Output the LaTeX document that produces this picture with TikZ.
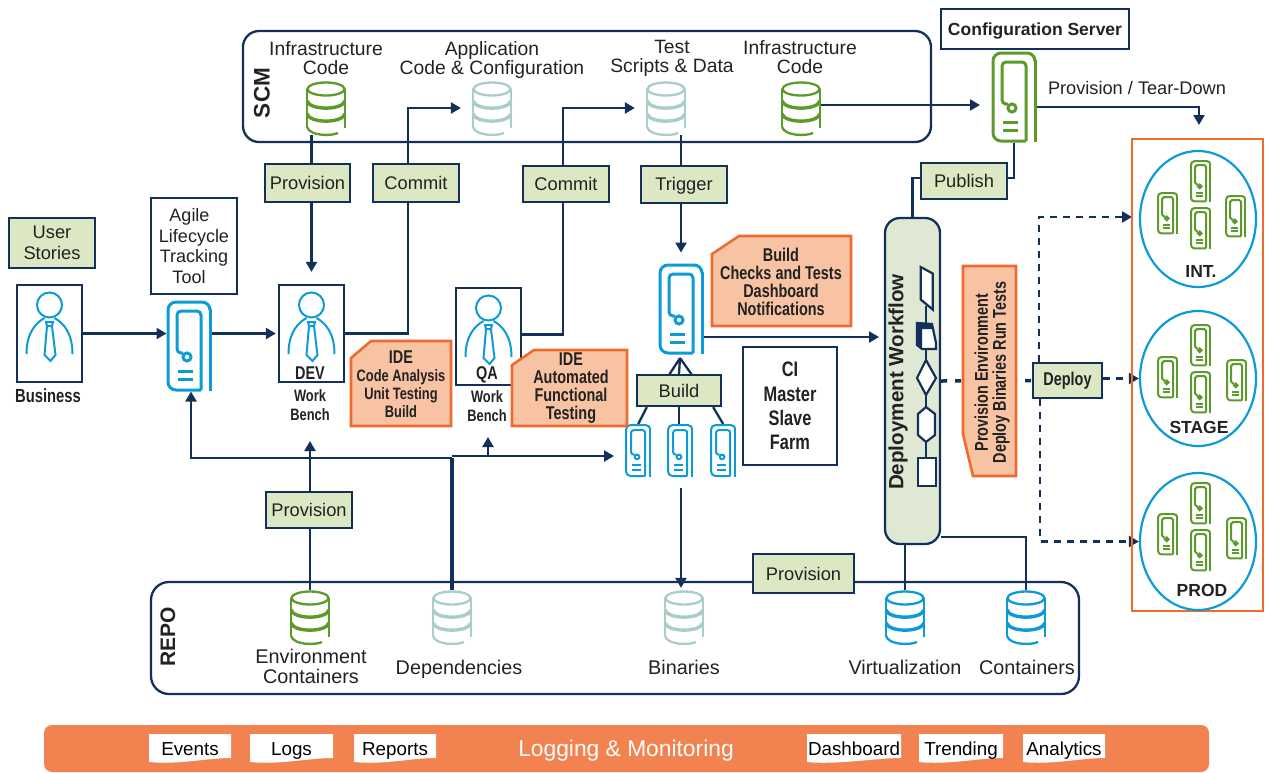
\documentclass[tikz,border=0pt]{standalone}
\usepackage{fontspec}
\setmainfont{Liberation Sans}
\newfontfamily\narrowfont[FakeStretch=0.78]{Liberation Sans}
\usetikzlibrary{arrows.meta,backgrounds,shapes.geometric}
\definecolor{navy}{HTML}{12305A}
\definecolor{ink}{HTML}{222222}
\definecolor{boxgreen}{HTML}{DCE8C4}
\definecolor{wfgreen}{HTML}{DFE8D3}
\definecolor{notefill}{HTML}{F8C3A3}
\definecolor{noteline}{HTML}{EE6A2F}
\definecolor{barfill}{HTML}{F2824F}
\definecolor{iconblue}{HTML}{0C9BD7}
\definecolor{icongreen}{HTML}{5C9A2B}
\definecolor{iconteal}{HTML}{A9CDC9}
\tikzset{
  conn/.style={draw=navy,line width=2.3pt},
  arr/.style={conn,-{Triangle[length=10pt,width=11pt]}},
  dasharr/.style={arr,line width=2.4pt,dash pattern=on 7pt off 6pt},
  lbl/.style={font=\fontsize{19.3}{19}\selectfont,text=ink,align=center,inner sep=0pt},
  replbl/.style={font=\fontsize{19.8}{20}\selectfont,text=ink,align=center,inner sep=0pt},
  boldlbl/.style={font=\bfseries\fontsize{17.5}{18}\selectfont,text=ink,align=center,inner sep=0pt},
  nlbl/.style={font=\narrowfont\bfseries\fontsize{18.5}{18}\selectfont,text=ink,align=center,inner sep=0pt},
  greenbox/.style={draw=navy,fill=boxgreen,line width=2.3pt,inner sep=0pt,text=ink,align=center,font=\fontsize{18.3}{20.5}\selectfont},
  whitebox/.style={draw=navy,fill=white,line width=2.3pt,inner sep=0pt,text=ink,align=center},
  notebox/.style={draw=noteline,fill=notefill,line width=2.6pt},
  wfshape/.style={draw=navy,fill=white,line width=2.2pt},
  docbar/.style={font=\fontsize{18.8}{19}\selectfont,text=black,inner sep=0pt,anchor=base}
}
\newcommand{\dbicon}[4]{%
\begin{scope}[shift={(#1,#2)},draw=#3,line width=2.3pt]
\node[minimum width=38,minimum height=52,inner sep=0pt] (#4) at (19,26) {};
\draw (19,7) ellipse [x radius=18.5,y radius=6.5];
\draw (0,7)--(0,45) (38,7)--(38,46);
\draw[line width=3.4pt] (0,19) .. controls (3,28.5) and (35,28.5) .. (38,19);
\draw[line width=3.4pt] (0,32) .. controls (3,41.5) and (35,41.5) .. (38,32);
\draw (0,45) .. controls (3,54.5) and (25,54) .. (31,51);
\end{scope}}
\newcommand{\srvicon}[6]{%
\begin{scope}[shift={(#1,#2)},scale=#3,draw=#5,line width=#4pt]
\node[minimum width={42*#3},minimum height={88*#3},inner sep=0pt] (#6) at (21,44) {};
\draw[rounded corners={#3*8pt}] (33,88)--(0,88)--(0,0)--(42,0)--(42,8);
\draw (42,7)--(42,89);
\draw[rounded corners={#3*4pt}] (33,88)--(33,9)--(9,9)--(9,51)--(15,51);
\draw (19,55) circle [radius=4];
\draw (10,69)--(25,69) (10,77)--(25,77);
\end{scope}}
\newcommand{\person}[3]{%
\node[whitebox,minimum width=65,minimum height=97] (#3) at (#1,#2+48.5) {};
\begin{scope}[shift={(#1,#2)},draw=iconblue,line width=2pt]
\draw (0,20) circle [radius=12.5];
\draw (-23,69) .. controls (-23,48) and (-14,38) .. (-5,33);
\draw (23,69) .. controls (23,48) and (14,38) .. (5,33);
\draw (-3.5,37)--(3.5,37)--(2.5,41)--(6,70)--(1,76)--(-5,70)--(-2.5,41)--cycle (-2.5,41)--(2.5,41);
\end{scope}}
\newcommand{\docnote}[4]{%
\fill[white] (#2,734)--(#3,734)--(#3,758) .. controls ({#3-25},758) and ({#2+30},765) .. (#2,762)--cycle;
\node[docbar] (#1) at ({(#2+#3)/2},755) {#4};}
\begin{document}
\begin{tikzpicture}[x=1pt,y=-1pt]
\useasboundingbox (0,0) rectangle (1266,772);
\draw[conn,rounded corners=16pt] (243,31) rectangle (931,142);
\node[font=\bfseries\fontsize{22.5}{22}\selectfont,text=ink,rotate=90,inner sep=0pt] (scmlbl) at (262,93) {SCM};
\draw[conn,rounded corners=18pt] (151,582) rectangle (1079,694);
\node[font=\bfseries\fontsize{21}{21}\selectfont,text=ink,rotate=90,inner sep=0pt] (repolbl) at (168,637) {REPO};
\draw[draw=noteline,line width=2.6pt] (1132,139) rectangle (1263,611);

\dbicon{307}{82}{icongreen}{dbinfa}
\dbicon{473}{82}{iconteal}{dbapp}
\dbicon{647}{82}{iconteal}{dbtest}
\dbicon{782}{82}{icongreen}{dbinfb}
\dbicon{291}{591}{icongreen}{dbenv}
\dbicon{433}{591}{iconteal}{dbdep}
\dbicon{665}{591}{iconteal}{dbbin}
\dbicon{886}{591}{iconblue}{dbvirt}
\dbicon{1007}{591}{iconblue}{dbcont}

\node[lbl] (infalbl) at (326,58) {Infrastructure\\Code};
\node[lbl] (applbl) at (492,60) {Application\\Code \& Configuration};
\node[lbl] (testlbl) at (672,58) {Test\\Scripts \& Data};
\node[lbl] (infblbl) at (800,57) {Infrastructure\\Code};
\node[replbl] (envlbl) at (311,666) {Environment\\Containers};
\node[replbl] (deplbl) at (459,669) {Dependencies};
\node[replbl] (binlbl) at (684,667) {Binaries};
\node[replbl] (virtlbl) at (905,667) {Virtualization};
\node[replbl] (contlbl) at (1027,667) {Containers};
\node[lbl,font=\fontsize{18.2}{19}\selectfont] (tearlbl) at (1137,88) {Provision / Tear-Down};

\node[greenbox,minimum width=85,minimum height=38] (provtop) at (307.5,183) {Provision};
\node[greenbox,minimum width=86,minimum height=38] (commita) at (416,183) {Commit};
\node[greenbox,minimum width=86,minimum height=36] (commitb) at (566,184) {Commit};
\node[greenbox,minimum width=86,minimum height=37,text height=17pt,text depth=4.6pt] (trigger) at (684,184.5) {Trigger};
\node[greenbox,minimum width=86,minimum height=36] (publish) at (964,181) {Publish};
\node[greenbox,minimum width=86,minimum height=50] (stories) at (52,243) {User\\Stories};
\node[greenbox,minimum width=84,minimum height=31] (buildbox) at (679,390.5) {Build};
\node[greenbox,minimum width=86,minimum height=36] (provmid) at (309,510) {Provision};
\node[greenbox,minimum width=101,minimum height=39] (provbot) at (803.5,573.5) {Provision};
\node[greenbox,minimum width=69,minimum height=35,font=\narrowfont\bfseries\fontsize{18.5}{18}\selectfont] (deploy) at (1067.5,380.5) {Deploy};

\node[whitebox,minimum width=86,minimum height=96,font=\fontsize{18}{20.8}\selectfont] (agilebox) at (194,246) {Agile\hspace*{9pt}\\Lifecycle\\Tracking\hspace*{2pt}\\Tool\hspace*{10pt}};
\node[whitebox,minimum width=188,minimum height=40,font=\bfseries\fontsize{17.5}{18}\selectfont,text height=17pt,text depth=4.6pt] (cfgbox) at (1035,29) {Configuration Server};
\node[whitebox,minimum width=94,minimum height=118,font=\narrowfont\bfseries\fontsize{21}{24.3}\selectfont] (cibox) at (790,406) {CI\\Master\\Slave\\Farm};

\person{49.5}{285}{business}
\person{311.5}{285}{dev}
\person{488.5}{288}{qa}
\node[nlbl,font=\narrowfont\bfseries\fontsize{19}{19}\selectfont] (busilbl) at (48,396) {Business};
\node[nlbl] (devlbl) at (310,373) {DEV};
\node[nlbl,font=\narrowfont\bfseries\fontsize{16.5}{19}\selectfont] (devwb) at (310,405.5) {Work\\Bench};
\node[nlbl] (qalbl) at (487,375) {QA};
\node[nlbl,font=\narrowfont\bfseries\fontsize{16.5}{19}\selectfont] (qawb) at (487,406.5) {Work\\Bench};

\srvicon{168}{302}{1}{3}{iconblue}{agile}
\srvicon{660}{265}{1}{3}{iconblue}{master}
\srvicon{993}{53}{1}{3}{icongreen}{cfgsrv}
\srvicon{626}{425}{0.58}{2}{iconblue}{slavea}
\srvicon{668}{425}{0.58}{2}{iconblue}{slaveb}
\srvicon{711}{425}{0.58}{2}{iconblue}{slavec}

\draw[notebox] (351,358)--(371,341)--(451,341)--(451,426)--(351,426)--cycle;
\node[nlbl,font=\narrowfont\bfseries\fontsize{16.5}{18}\selectfont] (idealbl) at (401,384) {{\fontsize{18.5}{18}\selectfont IDE}\\Code Analysis\\Unit Testing\\Build};
\draw[notebox] (512,365)--(534,350)--(627,350)--(627,426)--(512,426)--cycle;
\node[nlbl] (ideblbl) at (571,388) {IDE\\Automated\\Functional\\Testing};
\draw[notebox] (712,254)--(739,236)--(851,236)--(851,326)--(712,326)--cycle;
\node[nlbl] (buildlbl) at (781,282) {Build\\Checks and Tests\\Dashboard\\Notifications};
\draw[notebox] (963,266)--(1016,266)--(1016,476)--(973,476)--(963,434)--cycle;
\node[nlbl,rotate=90] (provlbl) at (992,372.5) {Provision Environment\\Deploy Binaries Run Tests};

\node[draw=navy,fill=wfgreen,line width=2.3pt,rounded corners=15pt,minimum width=55,minimum height=326,inner sep=0pt] (wf) at (912.5,381) {};
\node[font=\bfseries\fontsize{20.6}{21}\selectfont,text=ink,rotate=90,inner sep=0pt] (wflbl) at (898,382) {Deployment Workflow};
\draw[conn] (926,306)--(926,323) (926,349)--(926,360) (926,395)--(926,407) (926,442)--(926,458);
\draw[wfshape] (920.7,267)--(932.7,273.5)--(932.7,309.5)--(920.7,299.5)--cycle;
\draw[wfshape] (917,323)--(932,324)--(936,343)--(936,349)--(922,349)--(917,345)--cycle;
\fill[navy] (917,323)--(932,324)--(933,329)--(922,329)--(922,349)--(917,345)--cycle;
\draw[wfshape] (926,360)--(936,378)--(926,395)--(917,378)--cycle;
\draw[wfshape] (926,407)--(935,414)--(935,435)--(926,442)--(918,435)--(918,414)--cycle;
\draw[wfshape] (918,458) rectangle (936,486);

\node[draw=iconblue,ellipse,line width=2.2pt,minimum width=116,minimum height=136,inner sep=0pt] (intell) at (1198,219) {};
\node[draw=iconblue,ellipse,line width=2.2pt,minimum width=116,minimum height=135,inner sep=0pt] (stageell) at (1198,378.5) {};
\node[draw=iconblue,ellipse,line width=2.2pt,minimum width=116,minimum height=137,inner sep=0pt] (prodell) at (1198,541.5) {};
\foreach \ix/\iy [count=\ni] in {1158/193,1191/161,1191/208,1226/196,1158/357,1191/325,1191/372,1227/360,1158/514,1191/483,1191/530,1227/518}
  \srvicon{\ix}{\iy}{0.46}{2}{icongreen}{envsrv\ni};
\node[boldlbl] (intlbl) at (1201,271) {INT.};
\node[boldlbl] (stagelbl) at (1199,427) {STAGE};
\node[boldlbl] (prodlbl) at (1202,590) {PROD};

\draw[fill=barfill,draw=none,rounded corners=8pt] (44,725) rectangle (1209,772);
\docnote{events}{149}{231}{Events}
\docnote{logs}{250}{333}{Logs}
\docnote{reports}{354}{436}{Reports}
\docnote{dashb}{807}{901}{Dashboard}
\docnote{trend}{919}{1003}{Trending}
\docnote{analy}{1023}{1105}{Analytics}
\node[font=\fontsize{22.8}{23}\selectfont,text=white,inner sep=0pt,anchor=base] (loglbl) at (626,756.5) {Logging \& Monitoring};

\coordinate (cfgin) at (980,105);
\coordinate (envin) at (1199,125);
\coordinate (wfin) at (879,337);
\coordinate (buildtop) at (680,358);
\coordinate (binout) at (681,488);
\coordinate (devin) at (310,441);
\coordinate (depjoin) at (452,458);
\coordinate (slavein) at (614,456);
\coordinate (qain) at (488,437);
\coordinate (intin) at (1132,217);
\begin{scope}[on background layer]
\draw[arr] (business.east) -- (business.east -| agile.west);
\draw[arr,shorten >=2pt] (business.east -| agile.east) -- (dev.west);
\draw[arr,shorten >=12pt] (dbinfa.south -| dev.north) -- (dev.north);
\draw[arr,shorten >=11pt] (dev.east) -- ++(63,0) |- (dbapp.west);
\draw[arr,shorten >=11pt] ([yshift=2pt]qa.east) -- ++(41,0) |- (dbtest.west);
\draw[arr,shorten >=11pt] (dbtest.south -| master.north) -- (master.north);
\draw[arr] (dbinfb.east |- cfgin) -- (cfgin);
\draw[arr] ([yshift=-10pt]cfgsrv.east) -| (envin);
\draw[conn] (cfgsrv.south) |- ([yshift=3pt]publish.east);
\draw[conn] ([yshift=3pt]publish.west) -| (wf.north);
\draw[arr] (master.east |- wfin) -- (wfin);
\draw[conn] (buildtop) -- ++(-11,17) (buildtop) -- (buildbox.north) (buildtop) -- ++(12,17);
\draw[conn] ([xshift=11pt]buildbox.south west) -- (slavea.north);
\draw[conn] (buildbox.south) -- (buildbox.south |- slaveb.north);
\draw[conn] ([xshift=-9pt]buildbox.south east) -- (slavec.north);
\draw[arr,shorten >=2pt] (binout) -- (binout |- dbbin.north);
\draw[arr] (dbenv.north) -- (dbenv.north |- devin);
\draw[conn,line width=3.2pt] (dbdep.north) -- (dbdep.north |- depjoin);
\draw[arr,line width=2.8pt] (dbdep.north |- depjoin) -| ([xshift=2pt]agile.south);
\draw[arr] (dbdep.north |- slavein) -- (slavein);
\draw[arr] (qain |- slavein) -- (qain);
\draw[conn] (dbvirt.north) -- (dbvirt.north |- wf.south);
\draw[conn] ([yshift=8pt]wf.south east) -| (dbcont.north);
\draw[conn,line width=3.5pt,dash pattern=on 6pt off 8pt] (wf.east) -- (deploy.west);
\draw[dasharr] ([xshift=7pt]deploy.north west) |- (intin);
\draw[dasharr] (deploy.east |- stageell.west) -- (stageell.west);
\draw[dasharr] ([xshift=8pt]deploy.south west) |- (prodell.west);
\end{scope}
\end{tikzpicture}
\end{document}
